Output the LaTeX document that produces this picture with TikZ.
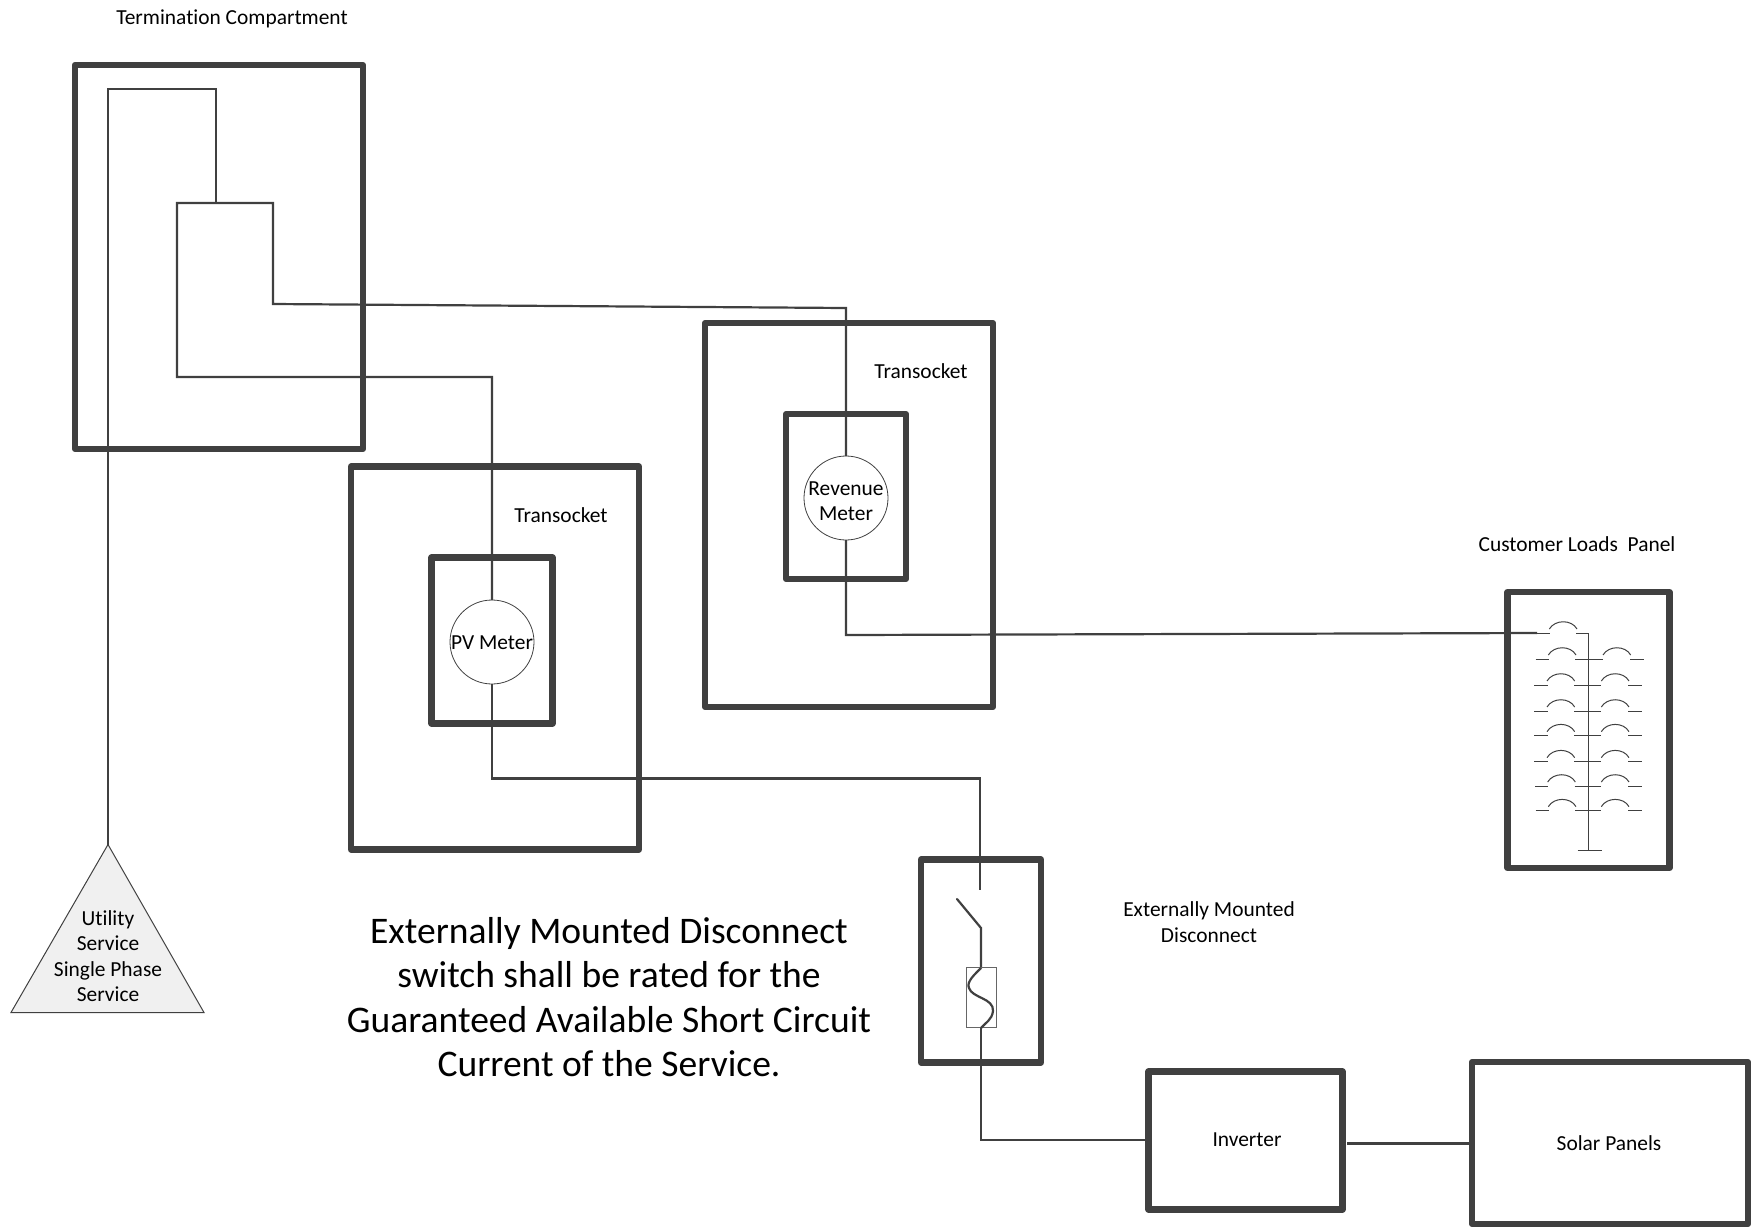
\documentclass[tikz,border=0pt]{standalone}
\usepackage{fontspec}
\setmainfont[Ligatures=CommonOff]{Carlito}
\definecolor{ink}{HTML}{404040}
\tikzset{
  heavybox/.style={draw=ink,line width=6.2bp,line join=round,rectangle,inner sep=0pt,outer sep=0pt},
  wire/.style={draw=ink,line width=2.2bp},
  meter/.style={draw=ink,line width=0.8bp,circle,fill=white,minimum size=84bp,inner sep=0pt,outer sep=0pt},
  lbl/.style={font=\fontsize{21.5}{25.5}\selectfont,text=black,align=center,inner sep=0pt},
  big/.style={font=\fontsize{37.7}{44.7}\selectfont,text=black,align=center,inner sep=0pt},
  breaker/.style={draw=ink,line width=1bp}
}
\begin{document}
\begin{tikzpicture}[x=1bp,y=-1bp]
\useasboundingbox (0,0) rectangle (1752,1226);
% boxes
\node[heavybox,minimum width=288bp,minimum height=384bp] (term) at (219,257) {};
\node[heavybox,minimum width=288bp,minimum height=384bp] (ts2) at (849,515) {};
\node[heavybox,minimum width=120bp,minimum height=165bp] (in2) at (846,496.5) {};
\node[heavybox,minimum width=288bp,minimum height=383bp] (ts1) at (495,658) {};
\node[heavybox,minimum width=121bp,minimum height=166bp] (in1) at (492,640.5) {};
\node[heavybox,minimum width=120bp,minimum height=203bp] (disc) at (981,961) {};
\node[heavybox,minimum width=194bp,minimum height=138bp] (inv) at (1245.5,1140.5) {};
\node[heavybox,minimum width=276bp,minimum height=162bp] (solar) at (1610,1143) {};
\node[heavybox,minimum width=162bp,minimum height=276bp] (panel) at (1588.5,730) {};
% triangle
\coordinate (apex) at (108,844.5);
\coordinate (tl) at (11,1012.5);
\coordinate (tr) at (204,1012.5);
\fill[black!6] (apex) -- (tl) -- (tr) -- cycle;
\draw[ink,line width=1bp,line join=miter] (apex) -- (tl) -- (tr) -- cycle;
% meters
\node[meter] (rev) at (846,498) {};
\node[meter] (pv) at (492,642) {};
% routing points
\coordinate (a1) at (108,89);
\coordinate (a2) at (216,89);
\coordinate (a3) at (216,203);
\coordinate (lugl) at (177,203);
\coordinate (lugr) at (273,203);
\coordinate (b0) at (273,304);
\coordinate (b1) at (846,308);
\coordinate (c0) at (177,377);
\coordinate (c1) at (492,377);
\coordinate (d1) at (846,635);
\coordinate (d2) at (1537,633);
\coordinate (e1) at (492,778.5);
\coordinate (e2) at (980,778.5);
\coordinate (e3) at (980,890);
\coordinate (f0) at (957,899);
\coordinate (f1) at (981,928);
\coordinate (f2) at (981,968);
\coordinate (f3) at (981,1028);
\coordinate (g1) at (981,1140);
\coordinate (h0) at (1347,1143.5);
% wires
\draw[wire] (apex) -- (a1) -- (a2) -- (a3);
\draw[wire,line join=miter] (rev.north) -- (b1) -- (b0) -- (lugr) -- (lugl) -- (c0) -- (c1) -- (pv.north);
\draw[wire] (rev.south) -- (d1) -- (d2);
\draw[wire] (pv.south) -- (e1) -- (e2) -- (e3);
\draw[wire,line cap=round] (f0) -- (f1) -- (f2);
\node[draw=ink!80,line width=0.8bp,rectangle,minimum width=30.5bp,minimum height=60bp,inner sep=0pt,outer sep=0pt] (fuse) at (981.2,997.5) {};
\draw[wire] (f2) .. controls (975,974) and (966,982) .. (969,988)
   .. controls (972,998) and (994,998) .. (993,1011)
   .. controls (992,1020) and (985,1023) .. (f3);
\draw[wire] (f3) -- (g1) -- (inv.west |- g1);
\draw[wire] (h0) -- (solar.west |- h0);
% panel internals, in thirds of a unit
\begin{scope}[shift={(1480,580)},x=0.3333bp,y=-0.3333bp]
\coordinate (bus0) at (325,160);
\coordinate (bus1) at (325,812);
\draw[breaker] (bus0) -- (bus1);
\draw[breaker] (293,812) -- (367,812);
\foreach \yy/\ll in {160/170,238/167,316/163,394/163,468/163,546/163,619/165,693/167}{
  \draw[breaker] (\ll,\yy) -- ++(40,0);
  \draw[breaker] (\ll+38,\yy-13) .. controls (\ll+55,\yy-42) and (\ll+105,\yy-42) .. (\ll+121,\yy-13);
  \draw[breaker] (\ll+119,\yy) -- (325,\yy);
}
\foreach \yy/\ll in {238/369,316/364,394/364,468/364,546/364,619/364,693/364}{
  \draw[breaker] (325,\yy) -- (\ll,\yy);
  \draw[breaker] (\ll,\yy-13) .. controls (\ll+17,\yy-42) and (\ll+67,\yy-42) .. (\ll+83,\yy-13);
  \draw[breaker] (\ll+81,\yy) -- ++(41,0);
}
\end{scope}
% labels
\node[lbl] (t1) at (232,18.5) {Termination Compartment};
\node[lbl] (t2) at (921,371) {Transocket};
\node[lbl] (t3) at (561,515) {Transocket};
\node[lbl] (t4) at (1577,544) {Customer Loads\ \ Panel};
\node[lbl] (t5) at (1209,922) {Externally Mounted\\Disconnect};
\node[lbl] (t6) at (1247,1140) {Inverter};
\node[lbl] (t7) at (1609,1143.5) {Solar Panels};
\node[lbl] (t8) at (108,956) {Utility\\Service\\Single Phase\\Service};
\node[lbl] (t10) at (846,501) {Revenue\\Meter};
\node[lbl] (t11) at (492,642.5) {PV Meter};
\node[big] (t9) at (609,997) {Externally Mounted Disconnect\\switch shall be rated for the\\Guaranteed Available Short Circuit\\Current of the Service.};
\end{tikzpicture}
\end{document}
